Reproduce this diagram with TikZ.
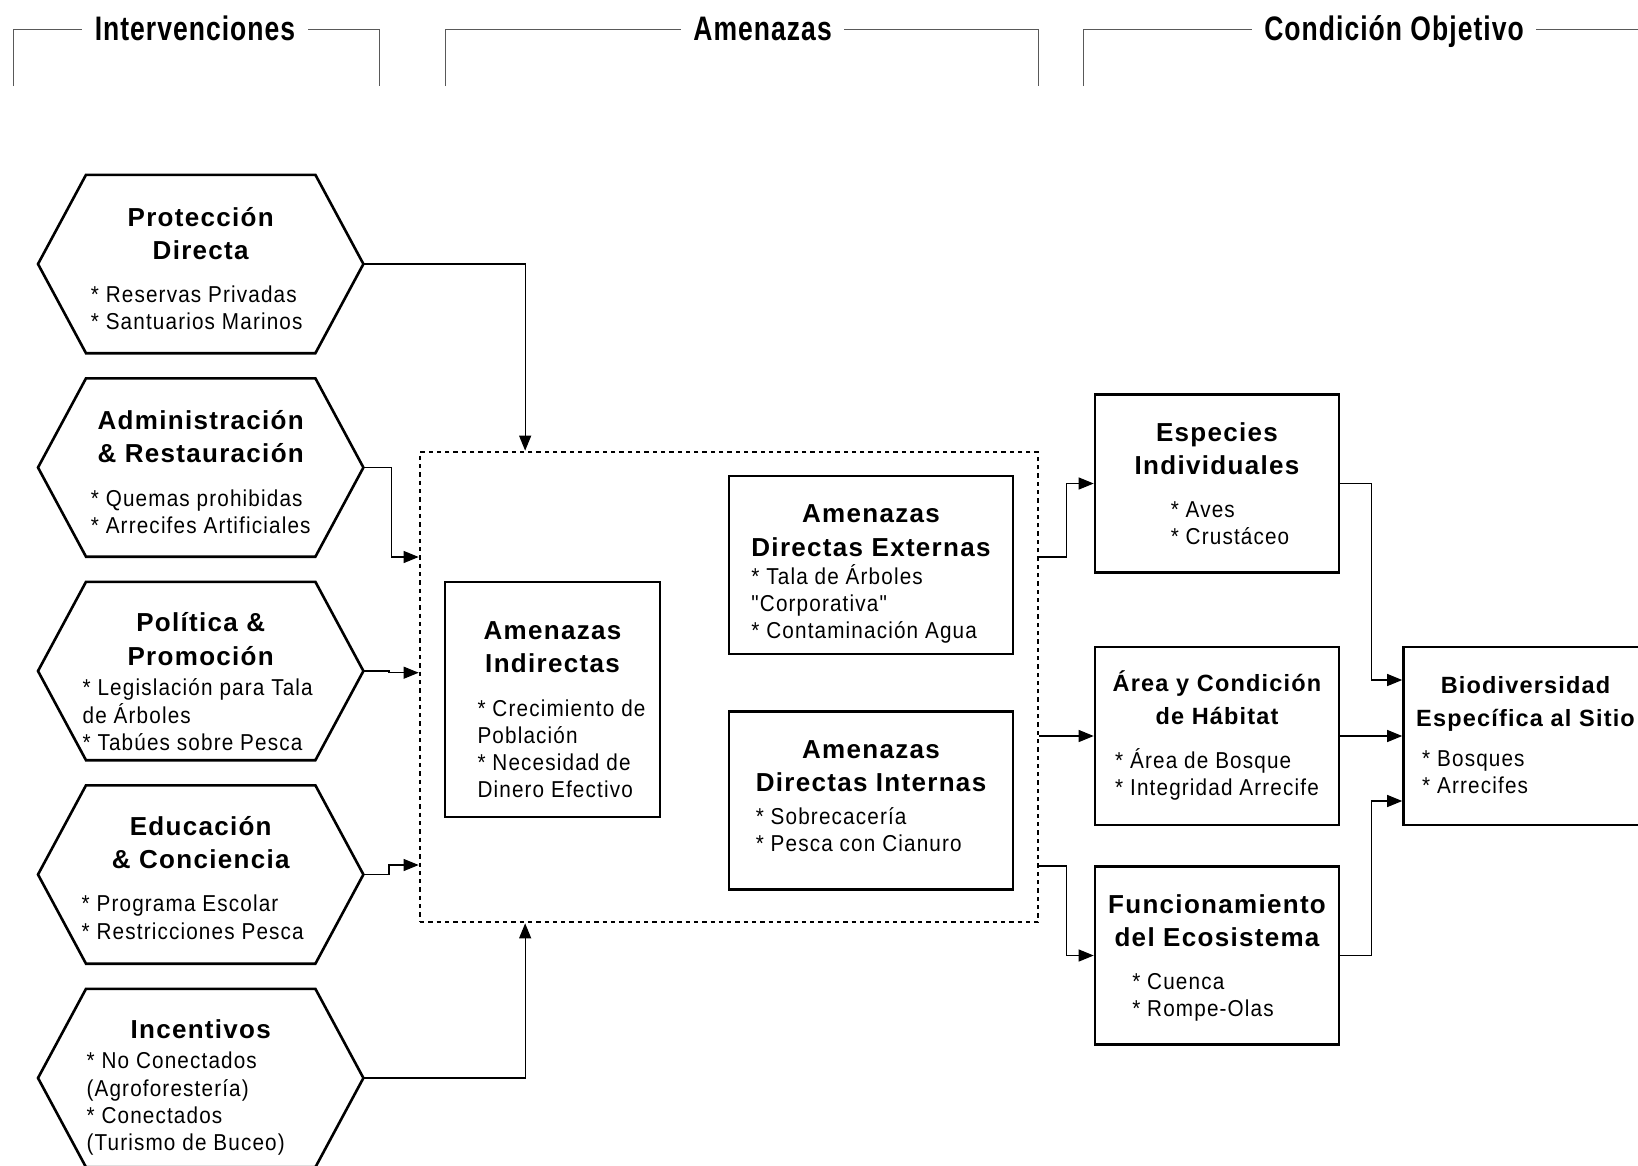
\documentclass[tikz,border=0pt]{standalone}
\usepackage{fontspec}
\setmainfont{Liberation Sans}
\newfontfamily\titlefont[LetterSpace=5]{Liberation Sans}
\newfontfamily\bodyfont[LetterSpace=5,FakeStretch=0.9,Ligatures=TeXOff]{Liberation Sans}
\newfontfamily\headfont[LetterSpace=3,FakeStretch=0.78]{Liberation Sans}
\usetikzlibrary{arrows.meta}

\newcommand{\boxtitle}[2][26]{{\titlefont\bfseries\fontsize{#1}{33.4}\selectfont\begin{tabular}{@{}c@{}}#2\end{tabular}}}
\newcommand{\boxbody}[1]{{\bodyfont\fontsize{23}{27.2}\selectfont\begin{tabular}{@{}l@{}}#1\end{tabular}}}
\newcommand{\itm}{*\ }

\tikzset{
  hexnode/.style={minimum width=325pt, minimum height=178pt, inner sep=0pt},
  hexline/.style={line width=2.6pt, line join=miter},
  tbox/.style={draw, line width=2.6pt, inner sep=0pt},
  rbox/.style={minimum width=244pt, minimum height=178pt},
  dbox/.style={minimum width=284pt, minimum height=178pt},
  txt/.style={inner sep=0pt, align=center},
  dotbox/.style={draw, line width=2.7pt, dash pattern=on 4.3pt off 4pt, minimum width=618pt, minimum height=470pt},
  link/.style={line width=1.1pt, ->},
  bracket/.style={line width=1pt, black!65},
  headtext/.style={font=\headfont\bfseries\fontsize{34}{40}\selectfont, fill=white, inner xsep=12.5pt, inner ysep=2pt, anchor=base}
}

\begin{document}
\begin{tikzpicture}[x=1pt, y=-1pt, >={Triangle[length=15pt,width=12pt]}]
    \path[fill=white, use as bounding box] (0,0) rectangle (1638,1165);

    % column headers
    \draw[bracket] (13.6,86) |- (379,29.3) -- (379,86);
    \draw[bracket] (445,86) |- (1038,29.3) -- (1038,86);
    \draw[bracket] (1083,86) |- (1650,29.3);
    \node[headtext] (hIntv) at (195,40) {Intervenciones};
    \node[headtext] (hAmen) at (762.6,40) {Amenazas};
    \node[headtext] (hCond) at (1394,40) {Condición Objetivo};

    % interventions
    \node[hexnode] (prot) at (200.7,264) {};
    \node[hexnode] (admin) at (200.7,467.5) {};
    \node[hexnode] (polit) at (200.7,671) {};
    \node[hexnode] (educ) at (200.7,874.5) {};
    \node[hexnode] (incent) at (200.7,1078) {};
    \foreach \h in {prot,admin,polit,educ,incent}
        \draw[hexline] (\h.west) -- ([xshift=48pt]\h.north west) -- ([xshift=-48pt]\h.north east)
            -- (\h.east) -- ([xshift=-48pt]\h.south east) -- ([xshift=48pt]\h.south west) -- cycle;
    \node[txt] (protTxt) at (200.7,270.3) {\boxtitle{Protección\\Directa}\\[13pt]\boxbody{\itm Reservas Privadas\\\itm Santuarios Marinos}\hspace*{8pt}};
    \node[txt] (adminTxt) at (200.7,473.8) {\boxtitle{Administración\\\& Restauración}\\[13pt]\boxbody{\itm Quemas prohibidas\\\itm Arrecifes Artificiales}};
    \node[txt] (politTxt) at (200.7,683.5) {\boxtitle{Política \&\\Promoción}\\\boxbody{\itm Legislación para Tala\\de Árboles\\\itm Tabúes sobre Pesca}\hspace*{6pt}};
    \node[txt] (educTxt) at (200.7,879.7) {\boxtitle{Educación\\\& Conciencia}\\[13pt]\boxbody{\itm Programa Escolar\\\itm Restricciones Pesca}\hspace*{16pt}};
    \node[txt] (incentTxt) at (200.7,1087) {\boxtitle{Incentivos}\\\boxbody{\itm No Conectados\\(Agroforestería)\\\itm Conectados\\(Turismo de Buceo)}\hspace*{30pt}};

    % threats
    \node[dotbox] (amz) at (729,687) {};
    \node[tbox, minimum width=215pt, minimum height=235pt] (indir) at (552.5,699.5) {};
    \node[tbox, dbox] (extern) at (871,565) {};
    \node[tbox, dbox] (intern) at (871,800.5) {};
    \node[txt] (indirTxt) at (552.5,711) {\boxtitle{Amenazas\\Indirectas}\\[13pt]\hspace*{18pt}\boxbody{\itm Crecimiento de\\Población\\\itm Necesidad de\\Dinero Efectivo}};
    \node[txt, align=left] (externTxt) at (871,573) {\boxtitle{Amenazas\\Directas Externas}\\[-3pt]\boxbody{\itm Tala de Árboles\\"Corporativa"\\\itm Contaminación Agua}};
    \node[txt, align=left] (internTxt) at (871,797.5) {\boxtitle{Amenazas\\Directas Internas}\\[3pt]\boxbody{\itm Sobrecacería\\\itm Pesca con Cianuro}};

    % target condition
    \node[tbox, rbox] (esp) at (1217,483.5) {};
    \node[tbox, rbox] (area) at (1217,736) {};
    \node[tbox, rbox] (func) at (1217,955.5) {};
    \node[tbox, rbox] (bio) at (1525.5,736) {};
    \node[txt] (espTxt) at (1217,485.5) {\boxtitle{Especies\\Individuales}\\[13pt]\hspace*{26pt}\boxbody{\itm Aves\\\itm Crustáceo}};
    \node[txt] (areaTxt) at (1217,736) {\boxtitle[23.5]{Área y Condición\\de Hábitat}\\[13pt]\boxbody{\itm Área de Bosque\\\itm Integridad Arrecife}};
    \node[txt] (funcTxt) at (1217,957.5) {\boxtitle{Funcionamiento\\del Ecosistema}\\[13pt]\boxbody{\itm Cuenca\\\itm Rompe-Olas}\hspace*{28pt}};
    \node[txt, align=left] (bioTxt) at (1525.5,736) {\boxtitle[23.5]{Biodiversidad\\Específica al Sitio}\\[10pt]\hspace*{6pt}\boxbody{\itm Bosques\\\itm Arrecifes}};

    % connectors
    \draw[link] (prot.east) -| ([xshift=106.5pt]amz.north west);
    \draw[link] (incent.east) -| ([xshift=106.5pt]amz.south west);
    \draw[link] (admin.east) -- ++(27.7,0) |- ([yshift=130pt]amz.west);
    \draw[link] (polit.east) -- ++(25.6,0) |- ([yshift=14.3pt]amz.west);
    \draw[link] (educ.east) -- ++(25.6,0) |- ([yshift=-178pt]amz.west);
    \draw[link] ([yshift=130pt]amz.east) -- ++(27.5,0) |- (esp.west);
    \draw[link] (area.west -| amz.east) -- (area.west);
    \draw[link] ([yshift=-179pt]amz.east) -- ++(27.5,0) |- (func.west);
    \draw[link] (esp.east) -- ++(31.5,0) |- ([yshift=56pt]bio.west);
    \draw[link] (area.east) -- (bio.west);
    \draw[link] (func.east) -- ++(31.5,0) |- ([yshift=-65pt]bio.west);
\end{tikzpicture}
\end{document}
